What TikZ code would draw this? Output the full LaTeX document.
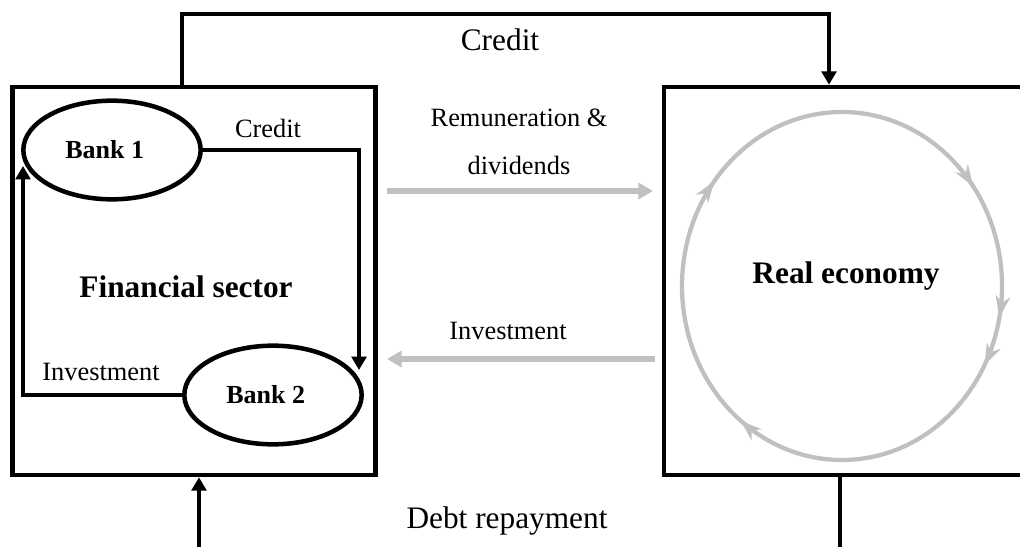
\documentclass[tikz,border=0pt]{standalone}
\usepackage{fontspec}
\setmainfont{Liberation Serif}
\usetikzlibrary{arrows.meta,shapes.geometric,decorations.markings}
\definecolor{flowgray}{RGB}{192,192,192}
\tikzset{
  cycletip/.tip={Stealth[length=16pt,width=11pt,inset=5pt]},
  sector/.style={draw=black, line width=3.4pt, rectangle, inner sep=0pt},
  bank/.style={ellipse, draw=black, line width=3.4pt, inner sep=0pt,
    minimum width=133pt, minimum height=74pt,
    font=\bfseries\fontsize{19.5}{22}\selectfont},
  flow/.style={draw=black, line width=3.4pt,
    -{Triangle[length=10pt,width=11pt]}},
  grayflow/.style={draw=flowgray, line width=3.8pt,
    -{Triangle[length=11pt,width=12pt]}},
  biglabel/.style={inner sep=0pt, font=\fontsize{23.5}{26}\selectfont},
  smalllabel/.style={inner sep=0pt, font=\fontsize{19.8}{22}\selectfont},
  boldlabel/.style={inner sep=0pt, font=\bfseries\fontsize{23.5}{26}\selectfont},
  cycle/.style={draw=flowgray, line width=3.2pt, postaction={decorate},
    decoration={markings,
      mark=at position 0.106 with {\arrow{cycletip}},
      mark=at position 0.400 with {\arrow{cycletip}},
      mark=at position 0.530 with {\arrow{cycletip}},
      mark=at position 0.578 with {\arrow{cycletip}},
      mark=at position 0.856 with {\arrow{cycletip}}}}
}
\begin{document}
\begin{tikzpicture}[x=0.75pt, y=-0.75pt]
\useasboundingbox (0,0) rectangle (1020,546);
\clip (0,0) rectangle (1020,546);

% the two sectors
\node[sector, minimum width=272.5pt, minimum height=291pt] (fin) at (194,281) {};
\node[sector, minimum width=274.5pt, minimum height=291pt] (real) at (847,281) {};

% banks inside the financial sector (labels sit a little left of centre)
\node[bank] (b1) at (112,150) {\hspace*{-11pt}Bank 1};
\node[bank] (b2) at (273,395) {\hspace*{-11pt}Bank 2};

% sector titles
\node[boldlabel] (fintitle) at (186,287) {Financial sector};
\node[boldlabel] (realtitle) at (846,276) {Real economy};

% circulation inside the real economy
\coordinate (cycstart) at (682,286);
\draw[cycle] (cycstart) arc[start angle=180, end angle=-180,
  x radius=120pt, y radius=130.5pt];

% credit from the financial sector to the real economy
\coordinate (topleft) at (182,14);
\coordinate (topright) at (829,14);
\draw[flow] (fin.north -| topleft) -- (topleft) -- (topright) -- (real.north -| topright);
\node[biglabel] (credittop) at (500,40) {Credit};

% debt repayment back to the financial sector
\coordinate (botright) at (840,570);
\coordinate (botleft) at (199,570);
\draw[flow] (real.south -| botright) -- (botright) -- (botleft) -- (fin.south -| botleft);
\node[biglabel] (debt) at (507,521) {Debt repayment};

% interbank flows
\coordinate (creditend) at (359,370);
\draw[flow] (b1.east) -| (creditend);
\node[smalllabel] (creditin) at (268,128) {Credit};
\coordinate (investend) at (23,166);
\draw[flow] (b2.west) -| (investend);
\node[smalllabel] (investin) at (101,372) {Investment};

% flows between the sectors
\coordinate (remstart) at (387,191);
\coordinate (remend) at (653,191);
\draw[grayflow] (remstart) -- (remend);
\node[smalllabel] (rem1) at (519,118) {Remuneration \&};
\node[smalllabel] (rem2) at (519,165) {dividends};
\coordinate (invstart) at (655,359);
\coordinate (invend) at (387,359);
\draw[grayflow] (invstart) -- (invend);
\node[smalllabel] (invmid) at (508,331) {Investment};
\end{tikzpicture}
\end{document}
